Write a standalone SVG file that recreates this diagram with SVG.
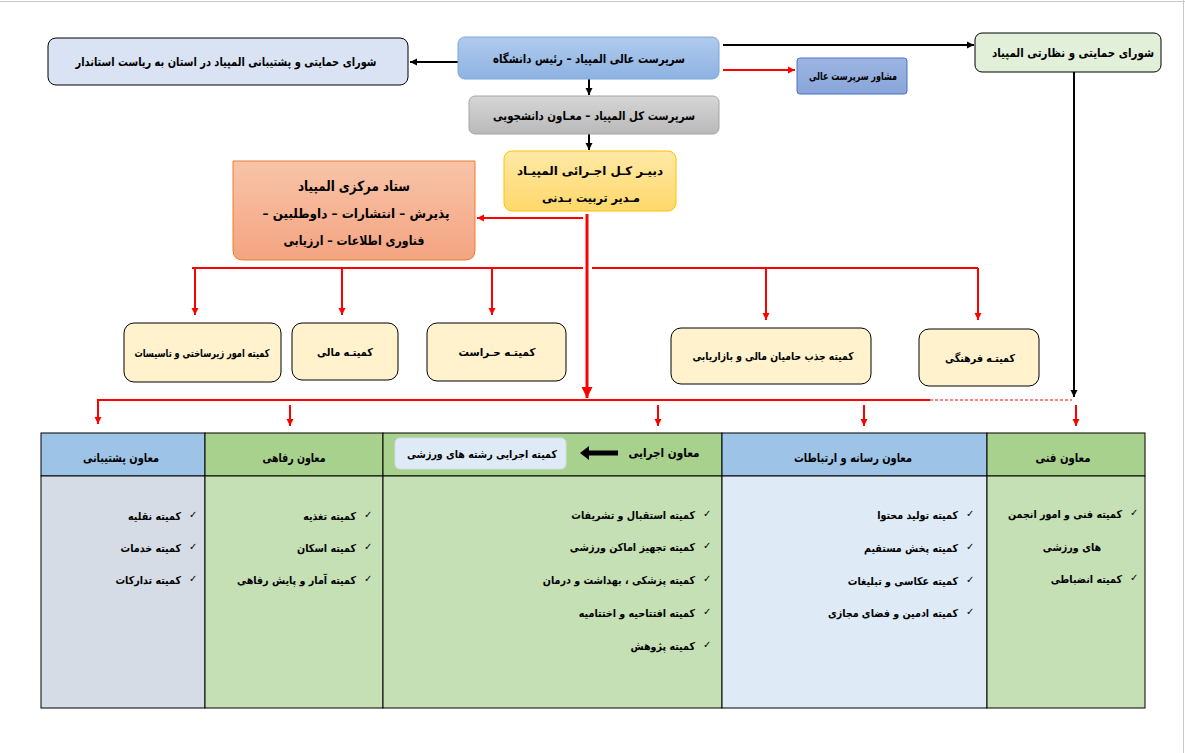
<svg xmlns="http://www.w3.org/2000/svg" width="1185" height="753" viewBox="0 0 1185 753">
<defs>
<marker id="ab" markerUnits="userSpaceOnUse" markerWidth="8" markerHeight="8" refX="7" refY="4" orient="auto"><path d="M0,0.5 L7,4 L0,7.5 Z" fill="#000"/></marker>
<marker id="ar" markerUnits="userSpaceOnUse" markerWidth="8" markerHeight="8" refX="7" refY="4" orient="auto"><path d="M0,0.5 L7,4 L0,7.5 Z" fill="#f00"/></marker>
<marker id="arb" markerUnits="userSpaceOnUse" markerWidth="12" markerHeight="12" refX="11" refY="6" orient="auto"><path d="M0,0.5 L11,6 L0,11.5 Z" fill="#f00"/></marker>
<linearGradient id="gB" x1="0" y1="0" x2="0" y2="1"><stop offset="0" stop-color="#b0cbed"/><stop offset="1" stop-color="#8db2e2"/></linearGradient>
<linearGradient id="gE" x1="0" y1="0" x2="0" y2="1"><stop offset="0" stop-color="#d6d6d6"/><stop offset="1" stop-color="#b9b9b9"/></linearGradient>
<linearGradient id="gF" x1="0" y1="0" x2="0" y2="1"><stop offset="0" stop-color="#fee9a6"/><stop offset="1" stop-color="#ffd86a"/></linearGradient>
<linearGradient id="gG" x1="0" y1="0" x2="0" y2="1"><stop offset="0" stop-color="#f8c4a8"/><stop offset="1" stop-color="#f4a481"/></linearGradient>
<linearGradient id="gD" x1="0" y1="0" x2="0" y2="1"><stop offset="0" stop-color="#9db5e2"/><stop offset="1" stop-color="#88a5d9"/></linearGradient>
</defs>
<style>
text{font-family:"DejaVu Sans","Noto Sans",sans-serif;font-weight:bold;fill:#000;}
.c{text-anchor:middle;direction:rtl;}
.t{font-size:12px;}
.s{font-size:11px;}
.r{text-anchor:end;font-size:11px;}
.ck{font-size:10px;font-weight:normal;text-anchor:start;}
.com{fill:#fff2cc;stroke:#000;stroke-width:1;}
.red{stroke:#f00;stroke-width:2;fill:none;}
.blk{stroke:#000;stroke-width:2;fill:none;}
.cell{stroke:#000;stroke-width:1;}
</style>
<rect x="0" y="0" width="1185" height="753" fill="#fff"/>
<line x1="0" y1="1.5" x2="1185" y2="1.5" stroke="#c8c8c8" stroke-width="1"/>
<line x1="1183.5" y1="0" x2="1183.5" y2="753" stroke="#c8c8c8" stroke-width="1"/>

<g id="connectors">
<line class="blk" x1="458" y1="62" x2="410" y2="62" marker-end="url(#ab)"/>
<line class="blk" x1="723" y1="45" x2="974" y2="45" marker-end="url(#ab)"/>
<line class="red" x1="723" y1="70" x2="795" y2="70" marker-end="url(#ar)"/>
<line class="blk" x1="589" y1="79" x2="589" y2="95" marker-end="url(#ab)"/>
<line class="blk" x1="589" y1="134" x2="589" y2="150" marker-end="url(#ab)"/>
<line class="red" x1="583" y1="218" x2="477" y2="218" marker-end="url(#ar)"/>
<line x1="587" y1="214" x2="587" y2="398" stroke="#f00" stroke-width="3" marker-end="url(#arb)"/>
<line class="red" x1="192" y1="268" x2="583" y2="268"/>
<line class="red" x1="592" y1="268" x2="978" y2="268"/>
<line class="red" x1="195" y1="268" x2="195" y2="315" marker-end="url(#ar)"/>
<line class="red" x1="342" y1="268" x2="342" y2="315" marker-end="url(#ar)"/>
<line class="red" x1="492" y1="268" x2="492" y2="315" marker-end="url(#ar)"/>
<line class="red" x1="766" y1="268" x2="766" y2="320" marker-end="url(#ar)"/>
<line class="red" x1="978" y1="268" x2="978" y2="320" marker-end="url(#ar)"/>
<line class="blk" x1="1074" y1="72" x2="1074" y2="397" marker-end="url(#ab)"/>
<polyline class="red" points="930,400 98,400 98,424" marker-end="url(#ar)"/>
<line x1="930" y1="400" x2="1072" y2="400" stroke="#f00" stroke-width="1" stroke-dasharray="3,2"/>
<line class="red" x1="290" y1="405" x2="290" y2="426" marker-end="url(#ar)"/>
<line class="red" x1="658" y1="405" x2="658" y2="426" marker-end="url(#ar)"/>
<line class="red" x1="864" y1="405" x2="864" y2="426" marker-end="url(#ar)"/>
<line class="red" x1="1076" y1="405" x2="1076" y2="426" marker-end="url(#ar)"/>
</g>

<g id="n-ostan">
<rect x="48" y="38" width="360" height="47" rx="8" fill="#dae3f3" stroke="#000" stroke-width="1"/>
<text class="c t" x="226" y="66" textLength="301" lengthAdjust="spacingAndGlyphs">شورای حمایتی و پشتیبانی المپیاد در استان به ریاست استاندار</text>
</g>
<g id="n-sarparast-ali">
<rect x="458" y="37" width="261" height="42" rx="7" fill="url(#gB)" stroke="#7ea6da" stroke-width="1"/>
<text class="c t" x="589" y="63" textLength="192" lengthAdjust="spacingAndGlyphs">سرپرست عالی المپیاد – رئیس  دانشگاه</text>
</g>
<g id="n-nezarati">
<rect x="975" y="33" width="186" height="39" rx="7" fill="#e2f0d9" stroke="#000" stroke-width="1"/>
<text class="c t" x="1073" y="57" textLength="162" lengthAdjust="spacingAndGlyphs">شورای حمایتی و نظارتی المپیاد</text>
</g>
<g id="n-moshaver">
<rect x="797" y="58" width="110" height="36" rx="3" fill="url(#gD)" stroke="#4a74c4" stroke-width="1"/>
<text class="c s" x="853" y="80" textLength="88" lengthAdjust="spacingAndGlyphs">مشاور سرپرست عالی</text>
</g>
<g id="n-sarparast-kol">
<rect x="469" y="96" width="250" height="38" rx="6" fill="url(#gE)" stroke="#a6a6a6" stroke-width="1"/>
<text class="c t" x="594" y="120" textLength="202" lengthAdjust="spacingAndGlyphs">سرپرست کل المپیاد – معـاون دانشجویی</text>
</g>
<g id="n-dabir">
<rect x="504" y="151" width="172" height="60" rx="8" fill="url(#gF)" stroke="#ffc000" stroke-width="1"/>
<text class="c t" x="590" y="175" textLength="146" lengthAdjust="spacingAndGlyphs">دبیـر کـل اجـرائی المپیـاد</text>
<text class="c t" x="591" y="202" textLength="98" lengthAdjust="spacingAndGlyphs">مـدیر تربیت بـدنی</text>
</g>
<g id="n-setad">
<path d="M233,161 H475 V250 Q475,260 465,260 H243 Q233,260 233,250 Z" fill="url(#gG)" stroke="#ed7d31" stroke-width="1"/>
<text class="c" x="354" y="191" font-size="14" textLength="112" lengthAdjust="spacingAndGlyphs">ستاد مرکزی المپیاد</text>
<text class="c" x="356" y="218" font-size="13" font-weight="normal" textLength="187" lengthAdjust="spacingAndGlyphs">پذیرش – انتشارات – داوطلبین –</text>
<text class="c" x="354" y="245" font-size="13" font-weight="normal" textLength="141" lengthAdjust="spacingAndGlyphs">فناوری اطلاعات – ارزیابی</text>
</g>
<g id="n-zirsakht">
<rect class="com" x="124" y="323" width="157" height="59" rx="10"/>
<text class="c s" x="202" y="357" textLength="135" lengthAdjust="spacingAndGlyphs">کمیته امور زیرساختی و تاسیسات</text>
</g>
<g id="n-mali">
<rect class="com" x="292" y="323" width="106" height="57" rx="10"/>
<text class="c s" x="345" y="356" textLength="56" lengthAdjust="spacingAndGlyphs">کمیتـه مالی</text>
</g>
<g id="n-herasat">
<rect class="com" x="427" y="323" width="139" height="58" rx="10"/>
<text class="c s" x="497" y="356" textLength="77" lengthAdjust="spacingAndGlyphs">کمیتـه حـراست</text>
</g>
<g id="n-jazb">
<rect class="com" x="671" y="328" width="200" height="56" rx="10"/>
<text class="c s" x="773" y="360" textLength="161" lengthAdjust="spacingAndGlyphs">کمیته جذب حامیان مالی و بازاریابی</text>
</g>
<g id="n-farhangi">
<rect class="com" x="919" y="329" width="120" height="57" rx="10"/>
<text class="c s" x="980" y="362" textLength="70" lengthAdjust="spacingAndGlyphs">کمیتـه فرهنگی</text>
</g>

<g id="n-poshtibani">
<rect class="cell" x="41" y="433" width="164" height="43" fill="#9dc3e6"/>
<rect class="cell" x="41" y="476" width="164" height="232" fill="#d6dce5"/>
<text class="c t" x="121" y="462" textLength="76" lengthAdjust="spacingAndGlyphs">معاون پشتیبانی</text>
<text class="ck" x="189" y="518">✓</text>
<text class="ck" x="189" y="550">✓</text>
<text class="ck" x="189" y="582">✓</text>
<g transform="translate(181,0) scale(0.87,1) translate(-181,0)">
<text class="r" x="181" y="520">کمیته نقلیه</text>
<text class="r" x="181" y="552">کمیته خدمات</text>
<text class="r" x="181" y="584">کمیته تدارکات</text>
</g>
</g>
<g id="n-refahi">
<rect class="cell" x="205" y="433" width="178" height="43" fill="#a9d18e"/>
<rect class="cell" x="205" y="476" width="178" height="232" fill="#c5e0b4"/>
<text class="c t" x="294" y="462" textLength="63" lengthAdjust="spacingAndGlyphs">معاون رفاهی</text>
<text class="ck" x="364" y="518">✓</text>
<text class="ck" x="364" y="550">✓</text>
<text class="ck" x="364" y="582">✓</text>
<g transform="translate(356,0) scale(0.87,1) translate(-356,0)">
<text class="r" x="356" y="520">کمیته تغذیه</text>
<text class="r" x="356" y="552">کمیته اسکان</text>
<text class="r" x="356" y="584">کمیته آمار و پایش رفاهی</text>
</g>
</g>
<g id="n-ejraei">
<rect class="cell" x="383" y="433" width="339" height="43" fill="#a9d18e"/>
<rect class="cell" x="383" y="476" width="339" height="232" fill="#c5e0b4"/>
<rect x="395" y="438" width="171" height="31" rx="5" fill="#deebf7" stroke="#cfdcea" stroke-width="1"/>
<text class="c s" x="482" y="458" textLength="150" lengthAdjust="spacingAndGlyphs">کمیته اجرایی رشته های ورزشی</text>
<path d="M580,453 L589,446 V450.5 H618 V455.5 H589 V460 Z" fill="#000"/>
<text class="c t" x="664" y="457" textLength="71" lengthAdjust="spacingAndGlyphs">معاون اجرایی</text>
<text class="ck" x="703" y="517">✓</text>
<text class="ck" x="703" y="549">✓</text>
<text class="ck" x="703" y="582">✓</text>
<text class="ck" x="703" y="615">✓</text>
<text class="ck" x="703" y="648">✓</text>
<g transform="translate(695,0) scale(0.87,1) translate(-695,0)">
<text class="r" x="695" y="519">کمیته استقبال و تشریفات</text>
<text class="r" x="695" y="551">کمیته تجهیز اماکن ورزشی</text>
<text class="r" x="695" y="584">کمیته پزشکی ، بهداشت و درمان</text>
<text class="r" x="695" y="617">کمیته افتتاحیه و اختتامیه</text>
<text class="r" x="695" y="650">کمیته پژوهش</text>
</g>
</g>
<g id="n-resane">
<rect class="cell" x="722" y="433" width="265" height="43" fill="#9dc3e6"/>
<rect class="cell" x="722" y="476" width="265" height="232" fill="#deebf7"/>
<text class="c t" x="853" y="462" textLength="118" lengthAdjust="spacingAndGlyphs">معاون رسانه و ارتباطات</text>
<text class="ck" x="966" y="517">✓</text>
<text class="ck" x="966" y="550">✓</text>
<text class="ck" x="966" y="583">✓</text>
<text class="ck" x="966" y="615">✓</text>
<g transform="translate(958,0) scale(0.87,1) translate(-958,0)">
<text class="r" x="958" y="519">کمیته تولید محتوا</text>
<text class="r" x="958" y="552">کمیته پخش مستقیم</text>
<text class="r" x="958" y="585">کمیته عکاسی و تبلیغات</text>
<text class="r" x="958" y="617">کمیته ادمین و فضای مجازی</text>
</g>
</g>
<g id="n-fanni">
<rect class="cell" x="987" y="433" width="158" height="43" fill="#a9d18e"/>
<rect class="cell" x="987" y="476" width="158" height="232" fill="#c5e0b4"/>
<text class="c t" x="1063" y="462" textLength="55" lengthAdjust="spacingAndGlyphs">معاون فنی</text>
<text class="ck" x="1130" y="516">✓</text>
<text class="ck" x="1130" y="581">✓</text>
<g transform="translate(1122,0) scale(0.87,1) translate(-1122,0)">
<text class="r" x="1122" y="518">کمیته فنی و امور انجمن</text>
<text class="r" x="1098" y="551">های ورزشی</text>
<text class="r" x="1122" y="583">کمیته انضباطی</text>
</g>
</g>
</svg>
